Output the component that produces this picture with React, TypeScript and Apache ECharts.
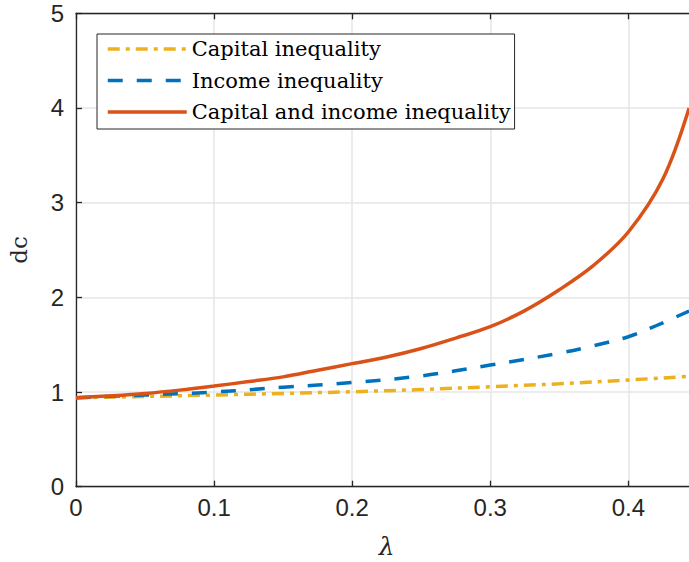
import React, { useEffect, useRef } from "react";
import * as echarts from "echarts";

const capitalX = [0, 0.05, 0.1, 0.15, 0.2, 0.25, 0.3, 0.35, 0.4, 0.444];
const capitalY = [0.94, 0.953, 0.968, 0.985, 1.003, 1.026, 1.056, 1.087, 1.127, 1.165];

const incomeX = [0, 0.05, 0.1, 0.15, 0.2, 0.25, 0.3, 0.35, 0.375, 0.4, 0.42, 0.444];
const incomeY = [0.94, 0.968, 1.0, 1.05, 1.1, 1.17, 1.285, 1.41, 1.49, 1.584, 1.7, 1.855];

const bothX = [0, 0.025, 0.05, 0.075, 0.1, 0.125, 0.15, 0.175, 0.2, 0.225, 0.25, 0.275, 0.3, 0.325, 0.35, 0.375, 0.4, 0.425, 0.444];
const bothY = [0.94, 0.96, 0.985, 1.02, 1.063, 1.11, 1.16, 1.23, 1.3, 1.37, 1.46, 1.57, 1.69, 1.86, 2.08, 2.34, 2.69, 3.25, 4.0];

const seriesNames = ["Capital inequality", "Income inequality", "Capital and income inequality"];
const xTicks = [0, 0.1, 0.2, 0.3, 0.4];
const yTicks = [0, 1, 2, 3, 4, 5];

const zip = (xs: number[], ys: number[]) => xs.map((x, i) => [x, ys[i]]);

export default function App() {
  const ref = useRef<HTMLDivElement>(null);
  useEffect(() => {
    if (!ref.current) return;
    const chart = echarts.init(ref.current, null, { renderer: "svg" });
    const axisColor = "#262626";
    const axisLine = { show: true, onZero: false, lineStyle: { color: axisColor, width: 1.3 } };
    const axisTick = { show: true, inside: true, length: 6, lineStyle: { color: axisColor, width: 1.3 } };
    const grid = { show: true, lineStyle: { color: "#e6e6e6", width: 1.5 } };
    chart.setOption({
      animation: false,
      backgroundColor: "#ffffff",
      grid: { left: 76, top: 13.3, width: 621.4, height: 473.4, outerBoundsMode: "none", containLabel: false },
      legend: {
        orient: "vertical",
        left: 97,
        top: 34,
        padding: [4, 4, 6, 9],
        itemWidth: 79,
        itemHeight: 14,
        itemGap: 9.5,
        borderColor: axisColor,
        borderWidth: 1,
        backgroundColor: "#ffffff",
        data: seriesNames,
        itemStyle: { opacity: 0 },
        lineStyle: { width: 3.5 },
        textStyle: { fontFamily: "DejaVu Serif", fontSize: 21, color: "#000000", lineHeight: 22 },
      },
      xAxis: [
        {
          type: "value",
          min: xTicks[0],
          max: 0.45,
          interval: 0.1,
          position: "bottom",
          axisLine,
          axisTick,
          splitLine: grid,
          axisLabel: {
            color: axisColor,
            fontSize: 24,
            fontFamily: "Liberation Sans",
            margin: 9,
            showMaxLabel: false,
            formatter: (v: number) => String(Math.round(v * 10) / 10),
          },
          name: "λ",
          nameLocation: "middle",
          nameGap: 47,
          nameTextStyle: { fontFamily: "DejaVu Serif", fontStyle: "italic", fontSize: 25, color: axisColor },
        },
        {
          type: "value",
          min: xTicks[0],
          max: 0.45,
          interval: 0.1,
          position: "top",
          axisLine,
          axisTick,
          splitLine: { show: false },
          axisLabel: { show: false },
        },
      ],
      yAxis: {
        type: "value",
        min: yTicks[0],
        max: yTicks[yTicks.length - 1],
        interval: 1,
        axisLine,
        axisTick,
        splitLine: grid,
        axisLabel: { color: axisColor, fontSize: 24, fontFamily: "Liberation Sans", margin: 12 },
        name: "dc",
        nameLocation: "middle",
        nameGap: 46,
        nameTextStyle: { fontFamily: "DejaVu Serif", fontSize: 23, color: axisColor },
      },
      series: [
        {
          name: seriesNames[0],
          type: "line",
          data: zip(capitalX, capitalY),
          symbol: "none",
          smooth: 0.35,
          lineStyle: { color: "#EDB120", width: 3.5, type: [12, 6, 4, 6] },
          itemStyle: { color: "#EDB120" },
        },
        {
          name: seriesNames[1],
          type: "line",
          data: zip(incomeX, incomeY),
          symbol: "none",
          smooth: 0.35,
          lineStyle: { color: "#0072BD", width: 3.5, type: [15, 14] },
          itemStyle: { color: "#0072BD" },
        },
        {
          name: seriesNames[2],
          type: "line",
          data: zip(bothX, bothY),
          symbol: "none",
          smooth: 0.35,
          lineStyle: { color: "#D95319", width: 3.5, type: "solid" },
          itemStyle: { color: "#D95319" },
        },
      ],
    });
    return () => chart.dispose();
  }, []);
  return (
    <div
      ref={ref}
      style={{ position: "absolute", left: 0, top: 0, width: 689, height: 562, overflow: "hidden" }}
    />
  );
}
